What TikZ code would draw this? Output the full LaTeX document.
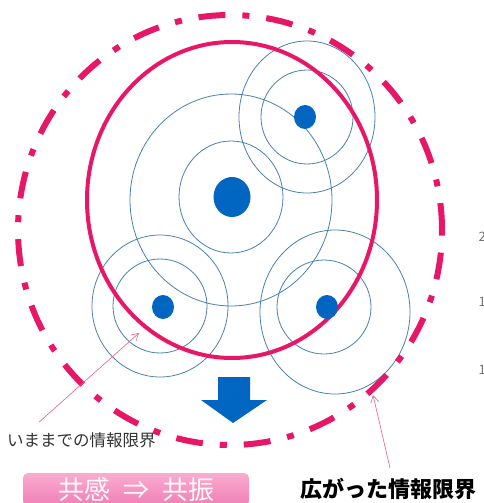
\documentclass[tikz,border=0pt]{standalone}
\usepackage{fontspec}
\newfontfamily\jpfont{Noto Sans CJK JP}
\usepackage{tikz}
\usetikzlibrary{positioning, arrows.meta}
\definecolor{limitpink}{RGB}{232,22,102}
\definecolor{notepink}{RGB}{226,96,146}
\definecolor{wavebl}{RGB}{72,128,178}
\definecolor{dotbl}{RGB}{0,102,194}
\definecolor{boxtop}{RGB}{250,172,208}
\definecolor{boxbottom}{RGB}{240,126,182}
\tikzset{
	wave/.style={
		draw=wavebl,
		line width=0.8pt,
	},
	source/.append style={
		fill=dotbl,
	},
	pointer/.style={
		draw=notepink,
		line width=0.6pt,
		-{Straight Barb[length=7pt,width=8pt]},
	},
	labe/.append style={
		inner sep=0pt,
		anchor=west,
	}
}

\begin{document}
\begin{tikzpicture}[
	x=1pt, y=-1pt,
	spread/.style = {draw=limitpink, line width=6pt, dash pattern=on 27pt off 17pt on 7pt off 17pt},
	reach/.style = {draw=limitpink, line width=4pt},
	resonance/.style = {rounded corners=5pt, top color=boxtop, bottom color=boxbottom, text=white!90!pink,
		minimum width=226pt, minimum height=33pt, inner sep=0pt, font={\jpfont\fontsize{26}{26}\selectfont}},
	cut/.style = {labe, text=black!55, font={\jpfont\fontsize{13}{13}\selectfont}}
	]
	\useasboundingbox (0,0) rectangle (483,503);
	
	% sources
	\coordinate (big) at (232,197);
	\coordinate (topright) at (305,117);
	\coordinate (botleft) at (163,307);
	\coordinate (botright) at (327,307);
	
	\draw[wave] (231,197) ellipse [x radius=52pt, y radius=56pt];
	\draw[wave] (231,200) ellipse [x radius=101pt, y radius=106pt];
	\draw[wave] (307,117) ellipse [x radius=46pt, y radius=47pt];
	\draw[wave] (307,117) ellipse [x radius=68pt, y radius=76pt];
	\draw[wave] (160,306) ellipse [x radius=47pt, y radius=47pt];
	\draw[wave] (160,306) ellipse [x radius=68pt, y radius=71pt];
	\draw[wave] (324,307) ellipse [x radius=47pt, y radius=47pt];
	\draw[wave] (335,312) ellipse [x radius=75pt, y radius=82pt];
	
	% limits
	\draw[spread] (230,230) ellipse [x radius=212pt, y radius=215pt];
	\draw[reach] (232,200) ellipse [x radius=145pt, y radius=158pt];
	
	\fill[source] (big) ellipse [x radius=18.5pt, y radius=20pt];
	\fill[source] (topright) ellipse [x radius=11pt, y radius=12pt];
	\fill[source] (botleft) ellipse [x radius=11pt, y radius=12pt];
	\fill[source] (botright) ellipse [x radius=11pt, y radius=12pt];
	
	\fill[dotbl] (218,377) -- (250,377) -- (250,400) -- (267,400) -- (233,423) -- (201,400) -- (218,400) -- cycle;
	
	\node[labe, text=black!80, font={\jpfont\fontsize{16.5}{16.5}\selectfont}] (oldlimit) at (7,440) {いままでの情報限界};
	\node[labe, text=black, font={\jpfont\bfseries\fontsize{22}{22}\selectfont}] (newlimit) at (300,489) {広がった情報限界};
	\node[resonance] (chain) at (136,489.5) {共感\hspace{0.5em}⇒\hspace{0.5em}共振};
	
	\coordinate (oldtip) at (139,333);
	\coordinate (newtip) at (373,395);
	\draw[pointer] ([xshift=32pt,yshift=10pt]oldlimit.north west) -- (oldtip);
	\draw[pointer] ([xshift=90pt,yshift=10pt]newlimit.north west) -- (newtip);
	
	\node[cut] (cut2) at (478.5,237) {2};
	\node[cut] (cut1) at (478.5,302) {1};
	\node[cut] (cut0) at (478.5,370) {1};
	
\end{tikzpicture}
\end{document}
